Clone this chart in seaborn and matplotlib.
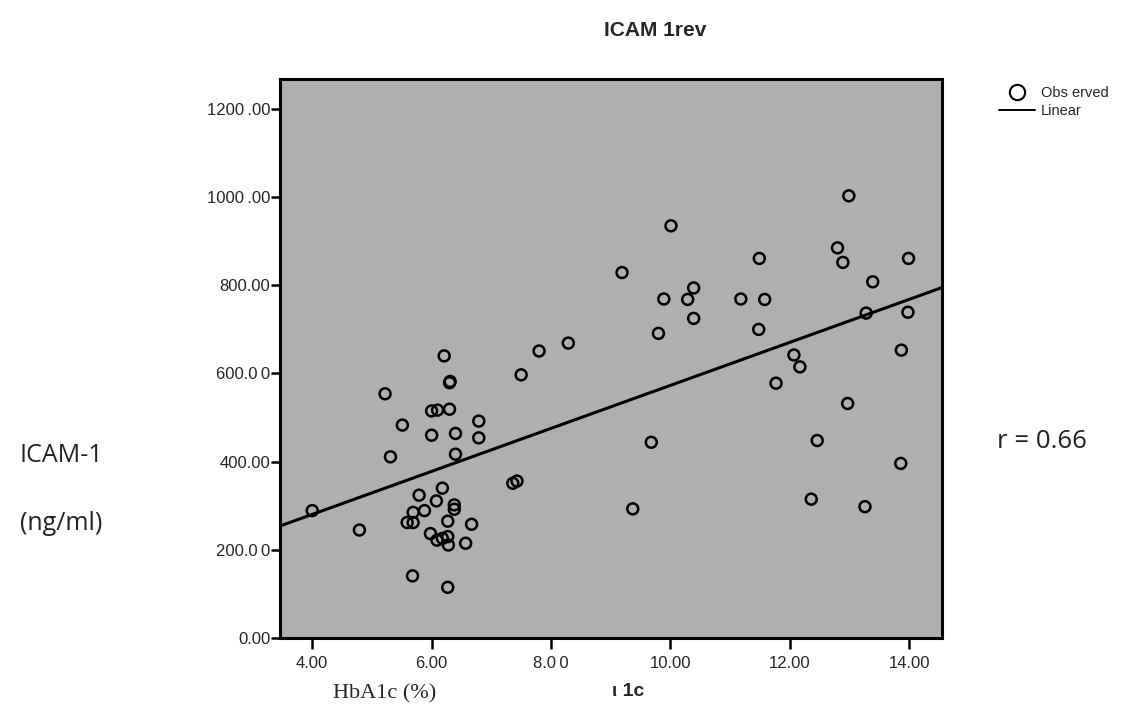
import numpy as np
import pandas as pd
import matplotlib
matplotlib.use('Agg')
import matplotlib.pyplot as plt
import seaborn as sns
from matplotlib.lines import Line2D

# HbA1c (%) and ICAM-1 (ng/ml)
hba1c = [6.21, 6.30, 6.31, 5.22, 6.00, 6.10, 6.30, 5.51, 6.79, 6.00,
         6.40, 6.79, 5.31, 6.40, 7.36, 7.43, 5.79, 6.18, 6.08, 6.38,
         6.38, 5.69, 5.88, 5.59, 5.69, 6.27, 6.67, 4.00, 4.79, 5.98,
         6.09, 6.18, 6.27, 6.28, 6.57, 5.68, 6.27,
         12.99, 10.01, 12.80, 11.49, 12.89, 13.99, 9.19, 13.39, 10.39, 9.89,
         10.29, 11.18, 11.58, 10.39, 13.28, 13.98, 11.48, 9.80, 8.29, 7.80,
         7.50, 13.87, 12.07, 12.17, 11.77, 12.97, 9.68, 12.46, 13.86, 9.37,
         12.36, 13.26]
icam1 = [640, 579, 582, 554, 515, 517, 519, 483, 492, 460,
         464, 454, 411, 417, 351, 356, 324, 340, 311, 302,
         292, 285, 289, 262, 262, 265, 258, 289, 245, 237,
         222, 226, 230, 211, 215, 141, 115,
         1003, 935, 885, 861, 852, 861, 829, 808, 794, 769,
         768, 769, 768, 725, 737, 739, 700, 691, 669, 651,
         597, 653, 642, 615, 578, 532, 444, 448, 396, 293,
         315, 298]

x_ticks = [4, 6, 8, 10, 12, 14]
x_tick_labels = ['4.00', '6.00', '8.0\u20090', '10.00', '12.00', '14.00']
y_ticks = [0, 200, 400, 600, 800, 1000, 1200]
y_tick_labels = ['0.00', '200.0\u20090', '400.00', '600.0\u20090', '800.00',
                 '1000\u2009.00', '1200\u2009.00']

df = pd.DataFrame({'HbA1c': hba1c, 'ICAM1': icam1})

sns.set_style('white')
plt.rcParams['font.family'] = ['Liberation Sans', 'DejaVu Sans']

fig = plt.figure(figsize=(11.25, 7.22), dpi=100)
ax = fig.add_axes([0.2489, 0.1163, 0.5884, 0.7743])
ax.set_facecolor('#afafaf')
ax.set_xlim(3.46, 14.55)
ax.set_ylim(0, 1268)

sns.regplot(data=df, x='HbA1c', y='ICAM1', ax=ax, ci=None, truncate=False,
            scatter_kws=dict(color='black', facecolors='none', s=62, linewidths=1.8, alpha=1),
            line_kws=dict(color='black', linewidth=2.2))

ax.set_xticks(x_ticks)
ax.set_xticklabels(x_tick_labels, fontsize=12)
ax.set_yticks(y_ticks)
ax.set_yticklabels(y_tick_labels, fontsize=12)
ax.tick_params(axis='x', direction='out', length=8, width=1.8, color='black',
               bottom=True, pad=5)
ax.tick_params(axis='y', direction='out', length=6.5, width=1.8, color='black',
               left=True, pad=0.5)
ax.set_xlabel('')
ax.set_ylabel('')
for side in ax.spines.values():
    side.set_visible(True)
    side.set_color('black')
    side.set_linewidth(2.2)

fig.text(655 / 1125, 1 - 30 / 722, 'ICAM 1rev', ha='center', va='center',
         fontsize=15, fontweight='bold')

handles = [Line2D([], [], marker='o', linestyle='none', markerfacecolor='none',
                  markeredgecolor='black', markersize=11, markeredgewidth=1.5),
           Line2D([], [], color='black', linewidth=1.4)]
fig.legend(handles, ['Obs erved', 'Linear'], loc='upper left',
           bbox_to_anchor=(999 / 1125, 1 - 86 / 722), frameon=False, fontsize=10.5,
           handlelength=2.5, handletextpad=0.35, labelspacing=0.3,
           borderaxespad=0, borderpad=0)

fig.text(20 / 1125, 1 - 456 / 722, 'ICAM-1', ha='left', va='center', fontsize=18,
         family=['Open Sans', 'DejaVu Sans'], color='#222222')
fig.text(20 / 1125, 1 - 523 / 722, '(ng/ml)', ha='left', va='center', fontsize=18,
         family=['Open Sans', 'DejaVu Sans'], color='#222222')
fig.text(997 / 1125, 1 - 442 / 722, 'r = 0.66', ha='left', va='center', fontsize=18.5,
         family=['Open Sans', 'DejaVu Sans'], color='#222222')
fig.text(333 / 1125, 1 - 694 / 722, 'HbA1c (%)', ha='left', va='center', fontsize=16,
         family=['Liberation Serif', 'DejaVu Serif'])
fig.text(612 / 1125, 1 - 692 / 722, '\u03b9 1c', ha='left', va='center', fontsize=14,
         fontweight='bold')

plt.savefig('out.png', dpi=100)
